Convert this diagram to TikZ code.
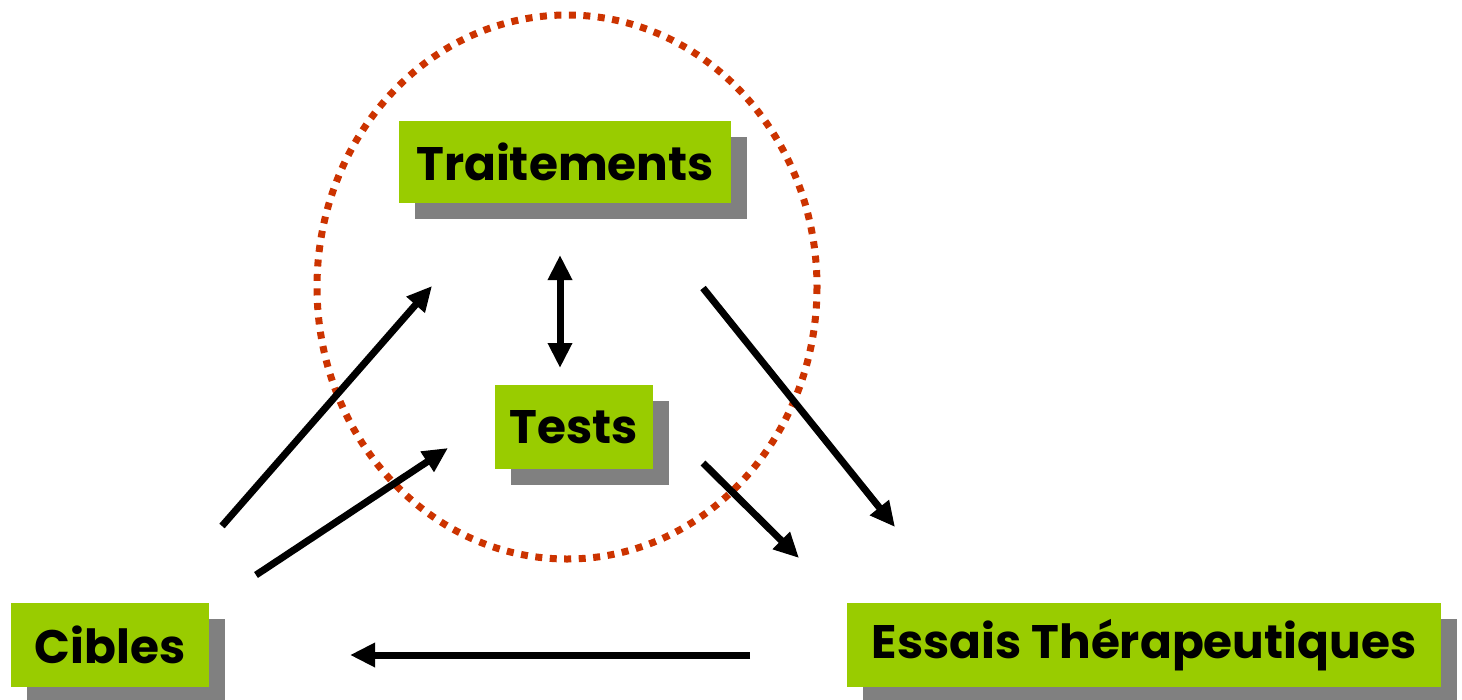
\documentclass[tikz,border=0pt]{standalone}
\usepackage{fontspec}
\setmainfont{Poppins}
\usetikzlibrary{arrows.meta,shadows}
\definecolor{boxgreen}{HTML}{99CC00}
\definecolor{shadowgray}{HTML}{808080}
\definecolor{dotred}{HTML}{CC3300}
\begin{document}
\begin{tikzpicture}[x=1pt,y=-1pt,
  labelbox/.style={fill=boxgreen, inner sep=0pt, font=\fontsize{47}{56}\selectfont\bfseries,
    general shadow={fill=shadowgray, shadow xshift=16pt, shadow yshift=-16pt}},
  flow/.style={line width=7pt, -{Triangle[length=25pt,width=23pt]}},
  bothflow/.style={line width=7pt, {Triangle[length=25pt,width=23pt]}-{Triangle[length=25pt,width=23pt]}},
  ring/.style={draw=dotred, line width=7pt, dash pattern=on 7pt off 7.5pt}]
\useasboundingbox (0,0) rectangle (1462,699);
\draw[ring] (567,287) ellipse [x radius=250, y radius=272];
\node[labelbox, minimum width=332pt, minimum height=82pt] (trait) at (565,162) {Traitements};
\node[labelbox, minimum width=158pt, minimum height=84pt] (tests) at (574,427) {Tests};
\node[labelbox, minimum width=198pt, minimum height=84pt] (cibles) at (110,645) {Cibles};
\node[labelbox, minimum width=594pt, minimum height=84pt] (essais) at (1144,645) {Essais Thérapeutiques};
\coordinate (a1s) at (222,526); \coordinate (a1e) at (432,286);
\coordinate (a2s) at (256,575); \coordinate (a2e) at (448,448);
\coordinate (a3s) at (560,255); \coordinate (a3e) at (560,368);
\coordinate (a4s) at (703,288); \coordinate (a4e) at (895,527);
\coordinate (a5s) at (703,463); \coordinate (a5e) at (799,558);
\coordinate (a6s) at (750,655); \coordinate (a6e) at (350,655);
\draw[flow] (a1s) -- (a1e);
\draw[flow] (a2s) -- (a2e);
\draw[bothflow] (a3s) -- (a3e);
\draw[flow] (a4s) -- (a4e);
\draw[flow] (a5s) -- (a5e);
\draw[flow] (a6s) -- (a6e);
\end{tikzpicture}
\end{document}
